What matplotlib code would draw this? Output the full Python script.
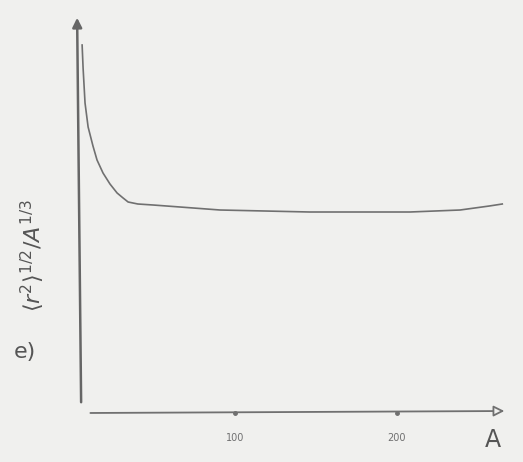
import matplotlib
matplotlib.use("Agg")
import matplotlib.pyplot as plt

# values (y in arbitrary units)
mass_number = [5.6, 6.2, 7.4, 9.3, 12.3, 14.8, 18.5, 22.8, 27.2, 30.9, 34, 40, 49.4,
               66, 90.7, 146, 208, 239, 257, 265]
radius_ratio = [3.68, 3.45, 3.10, 2.86, 2.67, 2.53, 2.40, 2.29, 2.20, 2.15, 2.11, 2.09,
                2.08, 2.06, 2.03, 2.01, 2.01, 2.03, 2.07, 2.09]
tick_values = [100, 200]
tick_labels = ["100", "200"]

ink = "#707070"
bg = "#f0f0ee"

fig = plt.figure(figsize=(5.23, 4.62), dpi=100, facecolor=bg)
ax = fig.add_axes([0, 0, 1, 1], facecolor=bg)
ax.set_xlim(-45.1, 277.8)
ax.set_ylim(-0.49, 4.13)
ax.axis("off")

# hand drawn axes with arrow heads
ax.annotate("", xy=(2.5, 3.98), xytext=(5, 0.08),
            arrowprops=dict(arrowstyle="-|>", color="#666666", lw=1.8, mutation_scale=14))
ax.annotate("", xy=(268, 0.02), xytext=(9, 0.0),
            arrowprops=dict(arrowstyle="-|>", color=ink, lw=1.3, mutation_scale=16,
                            fc=bg))

ax.plot(mass_number, radius_ratio, color=ink, lw=1.2)

for v, lab in zip(tick_values, tick_labels):
    ax.plot(v, 0.0, "o", color=ink, ms=2.5)
    ax.text(v, -0.25, lab, color=ink, fontsize=7, ha="center", va="center")

ax.text(259, -0.27, "A", color="#555555", fontsize=17, ha="center", va="center")
ax.text(-25, 1.58, r"$\langle r^2\rangle^{1/2}/A^{1/3}$", color="#555555", fontsize=16,
        rotation=90, ha="center", va="center")
ax.text(-30, 0.61, "e)", color="#555555", fontsize=16, ha="center", va="center")

fig.savefig("out.png", dpi=100, facecolor=bg)
